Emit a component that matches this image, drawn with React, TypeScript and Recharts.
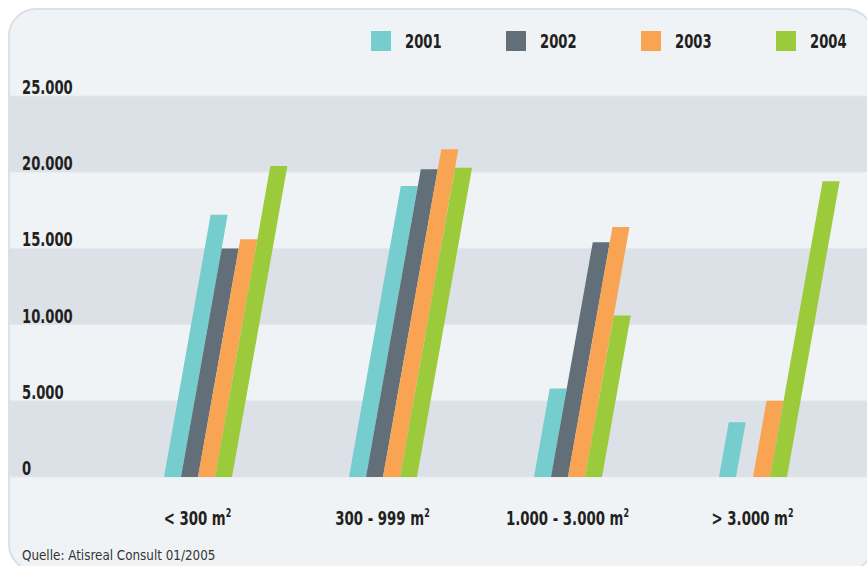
import React from "react";
import { BarChart, Bar, XAxis, YAxis, CartesianGrid } from "recharts";

// Flächenklassen und Werte je Jahr
const categories = ["< 300", "300 - 999", "1.000 - 3.000", "> 3.000"];
const years = ["2001", "2002", "2003", "2004"];
const values2001 = [17200, 19100, 5800, 3600];
const values2002 = [15000, 20200, 15400, null];
const values2003 = [15600, 21500, 16400, 5000];
const values2004 = [20400, 20300, 10600, 19400];
const yTicks = [0, 5000, 10000, 15000, 20000, 25000];

const colors = ["#76cdcd", "#626f78", "#f9a453", "#9bcb3b"];
const FONT = '"Liberation Sans Narrow", "Arial Narrow", "DejaVu Sans Condensed", "DejaVu Sans", sans-serif';

const data = categories.map((name, i) => ({
  name,
  y2001: values2001[i],
  y2002: values2002[i],
  y2003: values2003[i],
  y2004: values2004[i],
}));

const fmt = (v: number) => String(v).replace(/\B(?=(\d{3})+(?!\d))/g, ".");

// schräger Balken (Parallelogramm)
const SlantBar = (props: any) => {
  const { x, y, width, height, fill } = props;
  if (!height || height <= 0) return null;
  const s = height * 0.178;
  const d = `M${x},${y + height} L${x + width},${y + height} L${x + width + s},${y} L${x + s},${y} Z`;
  return <path d={d} fill={fill} />;
};

// keine schmale Schrift vorhanden -> horizontal stauchen
const YTick = (props: any) => {
  const { y, payload } = props;
  return (
    <text
      transform={`translate(22,${y - 2}) scale(0.77,1)`}
      fill="#231f20"
      fontSize={19}
      fontWeight="bold"
      fontFamily={FONT}
    >
      {fmt(payload.value)}
    </text>
  );
};

const XTick = (props: any) => {
  const { x, payload } = props;
  return (
    <text
      transform={`translate(${x},525) scale(0.74,1)`}
      textAnchor="middle"
      fill="#231f20"
      fontSize={20}
      fontWeight="bold"
      fontFamily={FONT}
    >
      <tspan>{payload.value} m</tspan>
      <tspan dy={-8} fontSize={12}>2</tspan>
    </text>
  );
};

export default function App() {
  return (
    <div style={{ position: "absolute", left: 0, top: 0, width: 867, height: 566, overflow: "hidden", background: "#fff" }}>
      <div
        style={{
          position: "absolute",
          left: 8,
          top: 8,
          width: 862,
          height: 560,
          border: "2px solid #dae0e5",
          borderRadius: 28,
          background: "#eff3f6",
        }}
      />
      <div style={{ position: "absolute", left: 0, top: 0 }}>
        <BarChart
          width={867}
          height={566}
          data={data}
          margin={{ top: 96, right: 0, bottom: 59, left: 0 }}
          barSize={17}
          barGap={0}
        >
          <CartesianGrid
            vertical={false}
            stroke="#e4e9ed"
            horizontalFill={["#dbe1e7", "#eff3f6"]}
          />
          <XAxis
            dataKey="name"
            height={30}
            padding={{ left: 95, right: 22 }}
            axisLine={false}
            tickLine={false}
            tick={<XTick />}
            interval={0}
          />
          <YAxis
            width={10}
            domain={[0, 25000]}
            ticks={yTicks}
            axisLine={false}
            tickLine={false}
            tick={<YTick />}
          />
          {years.map((yr, i) => (
            <Bar
              key={yr}
              dataKey={`y${yr}`}
              name={yr}
              fill={colors[i]}
              shape={<SlantBar />}
              isAnimationActive={false}
            />
          ))}
        </BarChart>
      </div>
      {years.map((yr, i) => (
        <div key={yr} style={{ position: "absolute", left: 371 + i * 135, top: 31, display: "flex", alignItems: "center" }}>
          <div style={{ width: 20, height: 20, background: colors[i] }} />
          <span
            style={{
              display: "inline-block",
              marginLeft: 14,
              fontFamily: FONT,
              fontWeight: "bold",
              fontSize: 19,
              color: "#231f20",
              lineHeight: "20px",
              transform: "scaleX(0.77)",
              transformOrigin: "left center",
            }}
          >
            {yr}
          </span>
        </div>
      ))}
      <div
        style={{
          position: "absolute",
          left: 22,
          top: 546,
          fontFamily: FONT,
          fontSize: 14,
          color: "#333",
          lineHeight: "18px",
          whiteSpace: "nowrap",
          transform: "scaleX(0.95)",
          transformOrigin: "left center",
        }}
      >
        Quelle: Atisreal Consult 01/2005
      </div>
    </div>
  );
}
